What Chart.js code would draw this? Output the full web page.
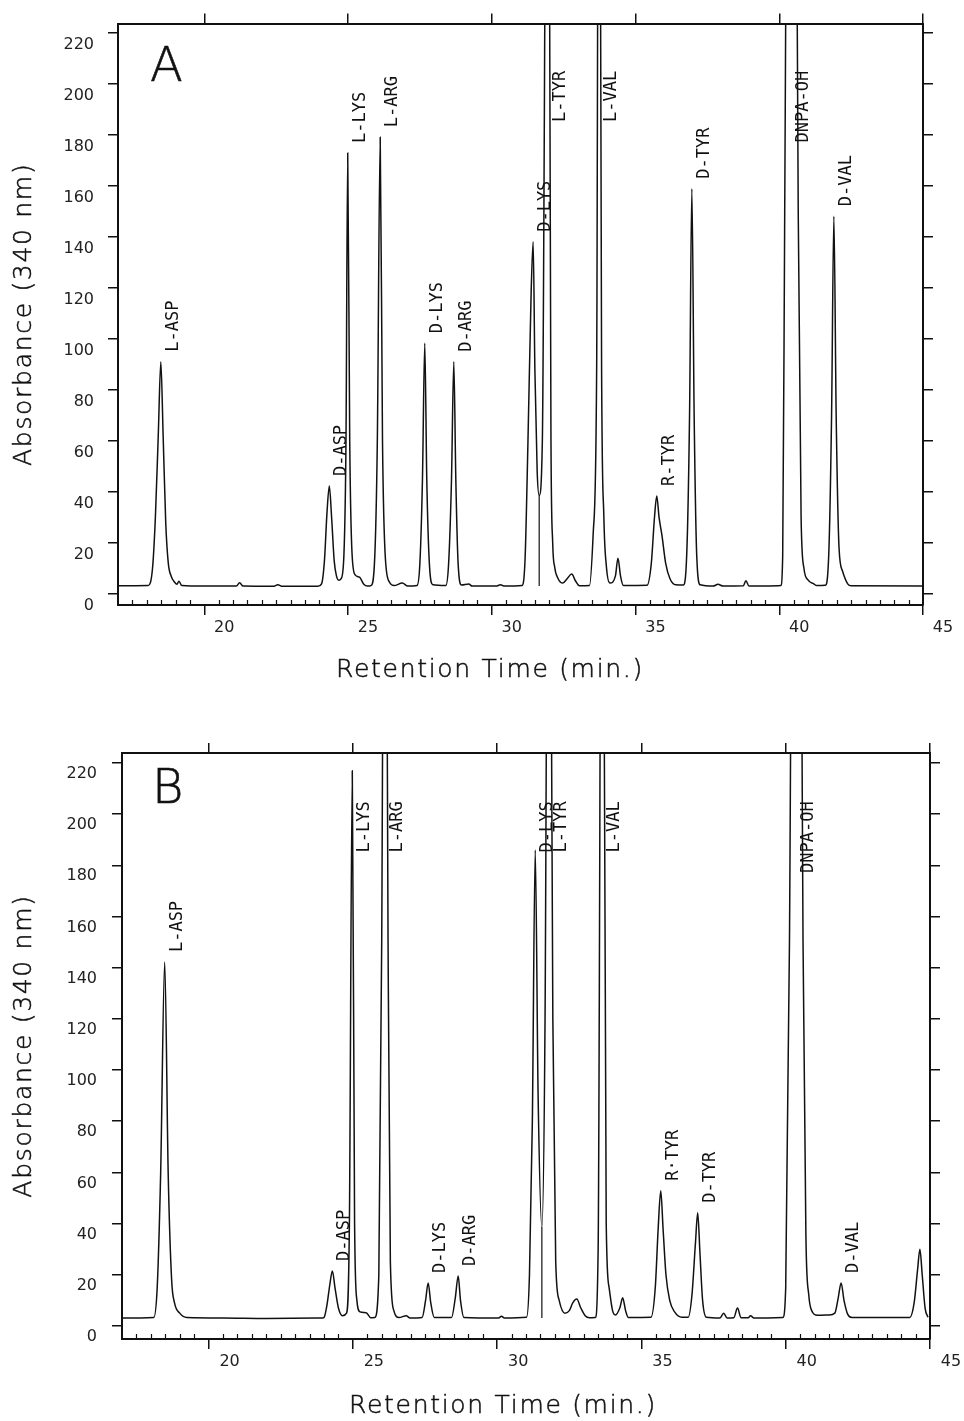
<!DOCTYPE html>
<html>
<head>
<meta charset="utf-8">
<script src="https://cdn.jsdelivr.net/npm/chart.js@4.4.1/dist/chart.umd.min.js"></script>
<style>
  body { margin: 0; background: #fff; }
  #wrap { position: relative; width: 964px; height: 1421px; background: #fff; }
  canvas { position: absolute; left: 0; }
  #chartA { top: 0; }
  #chartB { top: 710px; }
</style>
</head>
<body>
<div id="wrap">
  <canvas id="chartA" width="964" height="700"></canvas>
  <canvas id="chartB" width="964" height="711"></canvas>
</div>
<script>
// tick values (retention time in min, absorbance)
const xTickValues = [20, 25, 30, 35, 40, 45];
const yTickValues = [0, 20, 40, 60, 80, 100, 120, 140, 160, 180, 200, 220];

// panel A trace, [min, absorbance] (off-scale tops are estimates)
const traceA = [
  [17.0,3.2],[18.05,3.3],[18.2,10],[18.3,30],[18.4,62],[18.49,91],[18.57,62],[18.66,28],[18.75,12],[18.85,7],[18.97,4.6],[19.05,3.8],[19.12,5],[19.22,3.3],
  [20.0,3.1],[21.12,3.1],[21.23,4.4],[21.35,3.1],[22.4,3.0],[22.56,3.6],[22.72,3.0],[23.95,3.0],
  [24.08,4],[24.18,13],[24.27,32],[24.35,42.3],[24.43,30],[24.52,13],[24.6,7],[24.68,5.4],
  [24.76,6],[24.86,16],[24.93,60],[24.99,172.8],[25.06,60],[25.14,16],[25.25,7.5],[25.4,6.6],[25.55,3.8],[25.68,3.1],
  [25.8,3.3],[25.92,12],[26.02,60],[26.12,179],[26.2,60],[26.3,14],[26.45,4.5],[26.6,3.3],[26.89,4.3],[27.08,3.1],
  [27.4,3.3],[27.5,12],[27.59,45],[27.67,98.3],[27.74,45],[27.83,12],[27.95,3.6],
  [28.4,3.3],[28.5,12],[28.6,45],[28.68,91],[28.75,45],[28.83,12],[28.95,3.5],[29.2,3.9],[29.32,3.1],
  [30.15,3.1],[30.3,3.6],[30.45,3.1],
  [31.05,3.3],[31.16,14],[31.26,60],[31.37,118],[31.44,138],[31.5,88],[31.58,48],[31.65,38.6],
  [31.76,60],[31.95,420],[32.06,60],[32.12,20],[32.19,10.5],[32.3,6.2],[32.47,4.3],[32.62,6],[32.78,7.8],[32.92,5],[33.05,3.2],
  [33.4,3.3],[33.53,24],[33.65,90],[33.73,420],[33.82,90],[33.9,30],[33.99,10.5],[34.11,4.3],[34.3,7],[34.39,14],[34.48,7],[34.58,3.3],
  [35.4,3.4],[35.55,12],[35.66,30],[35.74,38.4],[35.82,30],[35.92,23],[36.05,12],[36.2,6],[36.4,3.6],
  [36.66,3.5],[36.78,15],[36.88,70],[36.96,158.8],[37.04,70],[37.13,15],[37.25,3.6],
  [37.7,3.1],[37.87,3.8],[38.05,3.1],[38.75,3.2],[38.84,5.2],[38.95,3.1],
  [40.05,3.3],[40.12,15],[40.19,150],[40.42,600],[40.66,150],[40.76,30],[40.86,10],[41.0,5.5],[41.2,4],[41.3,3.3],
  [41.6,3.4],[41.72,15],[41.82,70],[41.9,148],[41.98,70],[42.08,18],[42.2,9],[42.38,4],[42.5,3.2],[45.0,3.1]
];
const peakNamesA = ['L-ASP','D-ASP','L-LYS','L-ARG','D-LYS','D-ARG','D-LYS','L-TYR','L-VAL','R-TYR','D-TYR','DNPA-OH','D-VAL'];
const peakTimesA = [18.49, 24.35, 24.99, 26.12, 27.67, 28.68, 31.44, 31.95, 33.73, 35.74, 36.96, 40.42, 41.9];
const dropA = [[31.65, 3.1], [31.65, 38.6]];

// panel B trace
const traceB = [
  [17.0,3.1],[18.1,3.3],[18.22,15],[18.34,60],[18.48,142.2],[18.6,60],[18.72,18],[18.82,9],[19.0,5],[19.25,3.3],
  [20.5,3.1],[22.0,2.9],[23.95,3.1],
  [24.0,3.3],[24.1,8],[24.2,16],[24.29,21.5],[24.38,15],[24.5,7],[24.64,4],
  [24.78,5],[24.88,40],[24.98,217],[25.06,40],[25.14,10],[25.25,5.5],[25.46,5.2],[25.62,3.2],
  [25.76,3.3],[25.9,20],[26.0,150],[26.11,420],[26.22,150],[26.3,25],[26.42,6],[26.6,3.3],[26.85,4],[26.98,3.1],
  [27.4,3.3],[27.52,10],[27.61,16.8],[27.7,9],[27.82,3.3],
  [28.42,3.3],[28.55,11],[28.65,19.5],[28.73,10],[28.85,3.3],
  [30.05,3.1],[30.15,3.8],[30.25,3.1],
  [31.02,3.4],[31.12,20],[31.22,80],[31.32,186],[31.42,90],[31.55,38.7],
  [31.66,120],[31.79,420],[31.93,120],[32.03,25],[32.15,10],[32.35,5],[32.5,6],[32.62,9],[32.76,10.5],[32.9,7],[33.05,4],[33.2,3.2],
  [33.4,3.3],[33.5,30],[33.64,420],[33.78,40],[33.88,15],[34.0,6],[34.1,4.3],[34.25,7],[34.35,11],[34.45,6],[34.55,3.3],
  [35.33,3.4],[35.48,15],[35.58,38],[35.67,52.8],[35.75,38],[35.85,20],[35.98,10],[36.15,5.5],[36.4,3.4],
  [36.62,3.4],[36.75,12],[36.87,32],[36.95,44.2],[37.03,28],[37.12,10],[37.25,3.4],
  [37.72,3.1],[37.85,5],[37.97,3.1],[38.2,3.2],[38.33,7],[38.45,3.2],[38.7,3.2],[38.78,4],[38.9,3.1],
  [39.9,3.3],[40.0,15],[40.13,150],[40.36,600],[40.6,150],[40.7,35],[40.8,12],[40.9,6],[41.1,4.2],[41.5,4.3],[41.7,5],
  [41.82,11],[41.92,16.8],[42.02,10],[42.15,4.5],[42.3,3.3],
  [44.3,3.3],[44.45,9],[44.57,22],[44.65,30],[44.73,20],[44.83,7],[44.93,3.4]
];
const peakNamesB = ['L-ASP','D-ASP','L-LYS','L-ARG','D-LYS','D-ARG','D-LYS','L-TYR','L-VAL','R·TYR','D-TYR','DNPA-OH','D-VAL'];
const peakTimesB = [18.48, 24.29, 24.98, 26.11, 27.61, 28.65, 31.32, 31.79, 33.64, 35.67, 36.95, 40.36, 41.92];
const dropB = [[31.55, 3.1], [31.55, 38.7]];

const INK = '#111';
const SANS = '"DejaVu Sans", sans-serif';
const TICK_FONT = { family: SANS, size: 16 };

const layoutA = { letter: 'A', yMin: -4.3, yMax: 223.5, top: 21, bottom: 95, left: 118, right: 41,
  yLabelOffset: 12, yPad: 14, xLabelOffset: 20, letterDx: 32, letterDy: 57,
  xTitleX: 490, xTitleY: 670, yTitleX: 24 };
const layoutB = { letter: 'B', yMin: -5.1, yMax: 223.9, top: 43, bottom: 82, left: 122, right: 34,
  yLabelOffset: 11, yPad: 15, xLabelOffset: 21, letterDx: 30, letterDy: 50,
  xTitleX: 503, xTitleY: 696, yTitleX: 24 };

function panelDecor(trace, names, times, L) {
  return {
    id: 'decor' + L.letter,
    afterDatasetsDraw(chart) {
      const { ctx, chartArea } = chart;
      const x = chart.scales.x, y = chart.scales.y;
      ctx.save();

      // small inward ticks every half minute on the bottom frame
      ctx.strokeStyle = INK;
      ctx.lineWidth = 1.2;
      ctx.beginPath();
      for (let t = x.min + 0.5; t < x.max; t += 0.5) {
        if (xTickValues.includes(t)) continue;
        const px = Math.round(x.getPixelForValue(t)) + 0.5;
        ctx.moveTo(px, chartArea.bottom);
        ctx.lineTo(px, chartArea.bottom - 5);
      }
      ctx.stroke();

      // peak names, written upward just right of each apex
      ctx.font = '17px "DejaVu Sans Mono", monospace';
      ctx.fillStyle = INK;
      ctx.textAlign = 'left';
      ctx.textBaseline = 'alphabetic';
      const topLimit = y.getPixelForValue(205);
      names.forEach((name, i) => {
        const apex = trace.find(p => p[0] === times[i]);
        const px = x.getPixelForValue(apex[0]);
        const w = ctx.measureText(name).width;
        const start = Math.max(y.getPixelForValue(apex[1]) - 10, topLimit + w);
        ctx.save();
        ctx.translate(px + 17, start);
        ctx.rotate(-Math.PI / 2);
        ctx.fillText(name, 0, 0);
        ctx.restore();
      });

      // panel letter
      ctx.font = '200 48px ' + SANS;
      ctx.lineWidth = 0.6;
      ctx.fillText(L.letter, chartArea.left + L.letterDx, chartArea.top + L.letterDy);
      ctx.strokeText(L.letter, chartArea.left + L.letterDx, chartArea.top + L.letterDy);

      // axis titles (wide set, like the original lettering)
      ctx.font = '200 25px ' + SANS;
      ctx.letterSpacing = '1.7px';
      ctx.textAlign = 'center';
      ctx.textBaseline = 'middle';
      ctx.lineWidth = 0.5;
      ctx.fillText('Retention Time (min.)', L.xTitleX, L.xTitleY);
      ctx.strokeText('Retention Time (min.)', L.xTitleX, L.xTitleY);
      ctx.save();
      ctx.translate(L.yTitleX, (chartArea.top + chartArea.bottom) / 2);
      ctx.rotate(-Math.PI / 2);
      ctx.fillText('Absorbance (340 nm)', 0, 0);
      ctx.strokeText('Absorbance (340 nm)', 0, 0);
      ctx.restore();
      ctx.letterSpacing = '0px';
      ctx.restore();
    }
  };
}

function buildPanel(id, trace, names, times, drop, L) {
  const xCommon = { type: 'linear', min: 17, max: 45,
    afterBuildTicks: s => { s.ticks = xTickValues.map(v => ({ value: v })); } };
  const yCommon = { type: 'linear', min: L.yMin, max: L.yMax,
    afterBuildTicks: s => { s.ticks = yTickValues.map(v => ({ value: v })); } };
  const grid = { drawOnChartArea: false, color: INK, lineWidth: 1.5, tickLength: 10 };
  const border = { display: true, color: INK, width: 2 };

  return new Chart(document.getElementById(id), {
    type: 'line',
    data: {
      datasets: [
        { data: trace.map(([x, y]) => ({ x, y })), borderColor: INK, borderWidth: 1.5,
          pointRadius: 0, fill: false, tension: 0.4, cubicInterpolationMode: 'monotone' },
        { data: drop.map(([x, y]) => ({ x, y })), borderColor: INK, borderWidth: 1.2,
          pointRadius: 0, fill: false, tension: 0 }
      ]
    },
    options: {
      responsive: false,
      animation: false,
      devicePixelRatio: 1,
      events: [],
      layout: { padding: 0 },
      plugins: { legend: { display: false }, tooltip: { enabled: false } },
      scales: {
        x: { ...xCommon, position: 'bottom', grid, border,
          ticks: { autoSkip: false, maxRotation: 0, labelOffset: L.xLabelOffset, padding: 3, color: '#222', font: TICK_FONT },
          afterFit: s => { s.height = L.bottom; } },
        xTop: { ...xCommon, axis: 'x', position: 'top', grid, border,
          ticks: { display: false },
          afterFit: s => { s.height = L.top; } },
        y: { ...yCommon, position: 'left', grid, border,
          ticks: { labelOffset: L.yLabelOffset, padding: L.yPad, color: '#222', font: TICK_FONT },
          afterFit: s => { s.width = L.left; } },
        yRight: { ...yCommon, axis: 'y', position: 'right', grid, border,
          ticks: { display: false },
          afterFit: s => { s.width = L.right; } }
      }
    },
    plugins: [panelDecor(trace, names, times, L)]
  });
}

buildPanel('chartA', traceA, peakNamesA, peakTimesA, dropA, layoutA);
buildPanel('chartB', traceB, peakNamesB, peakTimesB, dropB, layoutB);
</script>
</body>
</html>
